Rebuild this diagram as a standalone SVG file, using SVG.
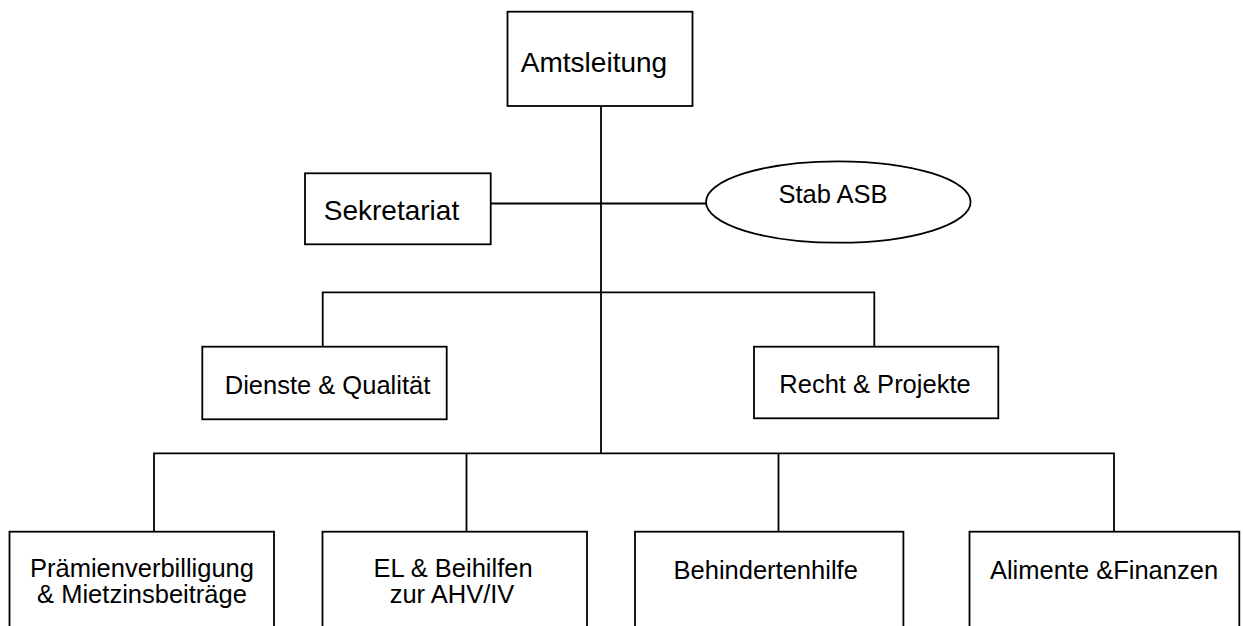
<svg xmlns="http://www.w3.org/2000/svg" width="1243" height="626" viewBox="0 0 1243 626">
<style>
.box{fill:#fff;stroke:#000;stroke-width:1.8}
.ln{fill:none;stroke:#000;stroke-width:1.8}
text{font-family:"Liberation Sans",Arial,sans-serif;fill:#000;text-anchor:middle}
.big{font-size:28px}
.t{font-size:25.5px}
</style>
<rect width="1243" height="626" fill="#fff"/>
<g id="connectors">
<path class="ln" d="M601 106V453.3"/>
<path class="ln" d="M490.7 203.5H706"/>
<path class="ln" d="M322.7 346.7V292.3H874.3V346.7"/>
<path class="ln" d="M154 531.7V453.3H1114V531.7M466.5 453.3V531.7M778.5 453.3V531.7"/>
</g>
<g id="amtsleitung"><rect class="box" x="507.5" y="11.7" width="185" height="94.3"/><text class="big" x="594" y="72.3">Amtsleitung</text></g>
<g id="sekretariat"><rect class="box" x="305" y="173.3" width="185.7" height="71"/><text class="big" x="391.5" y="220.3">Sekretariat</text></g>
<g id="stab"><ellipse class="box" cx="838.3" cy="202" rx="132.3" ry="40.7"/><text class="t" x="833" y="203.3">Stab ASB</text></g>
<g id="dienste"><rect class="box" x="202.3" y="346.7" width="244.4" height="72.6"/><text class="t" x="327.5" y="394.3">Dienste &amp; Qualität</text></g>
<g id="recht"><rect class="box" x="754" y="346.7" width="244.3" height="71.6"/><text class="t" x="875" y="393.3">Recht &amp; Projekte</text></g>
<g id="praemien"><rect class="box" x="9.5" y="531.7" width="264.5" height="110"/><text class="t" x="142" y="577.3">Prämienverbilligung</text><text class="t" x="142" y="603.3">&amp; Mietzinsbeiträge</text></g>
<g id="el"><rect class="box" x="322.5" y="531.7" width="264.5" height="110"/><text class="t" x="453" y="577.3">EL &amp; Beihilfen</text><text class="t" x="452" y="603.3">zur AHV/IV</text></g>
<g id="behinderten"><rect class="box" x="635" y="531.7" width="268.4" height="110"/><text class="t" x="765.7" y="579.3">Behindertenhilfe</text></g>
<g id="alimente"><rect class="box" x="969.5" y="531.7" width="269.8" height="110"/><text class="t" x="1104" y="579.3">Alimente &amp;Finanzen</text></g>
</svg>
